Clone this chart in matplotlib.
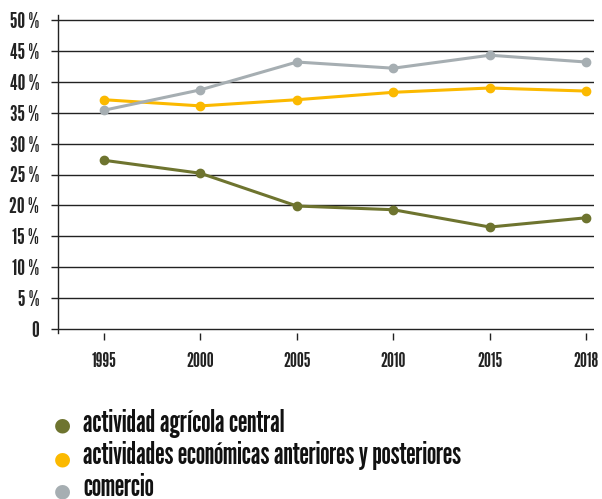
import matplotlib
matplotlib.use("Agg")
import matplotlib.pyplot as plt
from matplotlib import font_manager

years = ["1995", "2000", "2005", "2010", "2015", "2018"]
agricola = [27.3, 25.2, 19.9, 19.3, 16.5, 18.0]
actividades = [37.1, 36.1, 37.1, 38.3, 39.0, 38.5]
comercio = [35.4, 38.7, 43.2, 42.2, 44.3, 43.2]
series_names = ["actividad agrícola central",
                "actividades económicas anteriores y posteriores",
                "comercio"]
yticks = [0, 5, 10, 15, 20, 25, 30, 35, 40, 45, 50]
ytick_labels = ["0"] + [f"{v} %" for v in yticks[1:]]

colors = ["#6e742f", "#fbb900", "#a6aeb2"]

names = {f.name for f in font_manager.fontManager.ttflist}
FAM = "League Gothic" if "League Gothic" in names else "DejaVu Sans"
FAMS = [FAM, "DejaVu Sans"]
plt.rcParams["font.family"] = FAMS

fig = plt.figure(figsize=(6.02, 4.99), dpi=100)
W, H = 602, 499
renderer = fig.canvas.get_renderer()


def fit_size(s, target_px, base=10.0):
    t = fig.text(0, 0, s, fontsize=base, family=FAMS)
    w = t.get_window_extent(renderer).width
    t.remove()
    return base * target_px / w


ysize = fit_size("50 %", 29)
xsize = fit_size("2015", 25)
lsize = fit_size(series_names[1], 378)

ax = fig.add_axes([58 / W, 1 - 333 / H, (594 - 58) / W, (333 - 15) / H])

x = list(range(len(years)))
for vals, c in zip([agricola, actividades, comercio], colors):
    ax.plot(x, vals, color=c, lw=2.2, marker="o", ms=6, zorder=3)

ax.set_xlim(-0.477, 5.08)
px_per = (329 - 20) / 50
ax.set_ylim(-(333 - 329) / px_per, 50 + (20 - 15) / px_per)
ax.set_yticks(yticks)
ax.set_yticklabels(ytick_labels, fontsize=ysize, color="#222222")
ax.set_xticks(x)
ax.set_xticklabels(years, fontsize=xsize, color="#222222")
for t in yticks:
    ax.axhline(t, color="#222222", lw=1.0, zorder=1)
for s in ["top", "right", "bottom"]:
    ax.spines[s].set_visible(False)
ax.spines["left"].set_color("#222222")
ax.spines["left"].set_linewidth(1.0)
ax.tick_params(axis="y", length=5, width=1.0, color="#222222", pad=8.6)
ax.tick_params(axis="x", length=5, width=1.0, color="#222222", pad=9)

# legend
dot_rows = [425, 459, 491]
base_rows = [432, 464, 496]
for name, c, yd, yb in zip(series_names, colors, dot_rows, base_rows):
    fig.text(62 / W, 1 - yd / H, "\u25CF", color=c, fontsize=14, ha="center", va="center",
             family="DejaVu Sans")
    fig.text(83 / W, 1 - yb / H, name, color="#111111", fontsize=lsize,
             ha="left", va="baseline")

fig.savefig("out.png", dpi=100)
